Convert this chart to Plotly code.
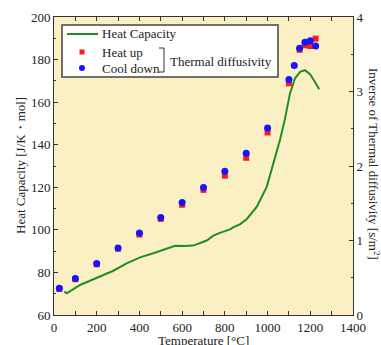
import plotly.graph_objects as go

# Heat capacity curve (left axis)
cp_temp = [48, 60, 122, 215, 278, 340, 403, 465, 528, 567, 610, 652, 715, 746, 777, 824, 839, 870, 902, 949, 996, 1027, 1058, 1081, 1105, 1128, 1152, 1175, 1199, 1222, 1242]
cp_val = [71.0, 70.2, 74.1, 78.0, 80.8, 84.3, 87.1, 89.0, 91.3, 92.5, 92.4, 92.6, 95.0, 97.3, 98.6, 100.2, 101.2, 102.6, 105.0, 110.8, 120.2, 131.2, 142.2, 152.0, 164.1, 171.1, 174.2, 175.0, 173.1, 169.5, 166.0]

# Inverse of thermal diffusivity (right axis)
up_temp = [25, 100, 200, 300, 400, 500, 600, 700, 800, 900, 1000, 1100, 1150, 1175, 1200, 1225]
up_val = [0.35, 0.48, 0.68, 0.89, 1.08, 1.29, 1.48, 1.68, 1.87, 2.11, 2.45, 3.11, 3.56, 3.62, 3.61, 3.71]
down_temp = [25, 100, 200, 300, 400, 500, 600, 700, 800, 900, 1000, 1100, 1125, 1150, 1175, 1200, 1225]
down_val = [0.36, 0.49, 0.69, 0.90, 1.10, 1.31, 1.51, 1.71, 1.93, 2.17, 2.51, 3.16, 3.35, 3.58, 3.66, 3.68, 3.61]

x_ticks = [0, 200, 400, 600, 800, 1000, 1200, 1400]
y_ticks = [60, 80, 100, 120, 140, 160, 180, 200]
y2_ticks = [0, 1, 2, 3, 4]

GREEN = "#1f8f23"
RED = "#ff1a1a"
BLUE = "#1414ff"
FONT = "Liberation Serif"
TXT = "#222222"

fig = go.Figure()
fig.add_trace(go.Scatter(x=cp_temp, y=cp_val, mode="lines", line=dict(color=GREEN, width=2), showlegend=False))
fig.add_trace(go.Scatter(x=up_temp, y=up_val, mode="markers", yaxis="y2",
                         marker=dict(symbol="square", color=RED, size=6), showlegend=False))
fig.add_trace(go.Scatter(x=down_temp, y=down_val, mode="markers", yaxis="y2",
                         marker=dict(symbol="circle", color=BLUE, size=7), showlegend=False))

L, R, T, B = 54, 353, 17, 315
W = R - L
H = B - T
def px(x):
    return (x - L) / W
def py(y):
    return (B - y) / H

axis_common = dict(showline=True, linecolor="#333333", linewidth=1, ticks="inside",
                   tickcolor="#333333", ticklen=4, showgrid=False, zeroline=False, automargin=False,
                   tickfont=dict(family=FONT, size=13, color=TXT))

fig.update_layout(
    width=381, height=345,
    margin=dict(l=L, r=381 - R, t=T, b=345 - B),
    paper_bgcolor="white", plot_bgcolor="#fbf0c3",
    font=dict(family=FONT, size=13, color=TXT),
    xaxis=dict(range=[0, 1400], tickvals=x_ticks, mirror="allticks",
               minor=dict(dtick=100, ticks="inside", ticklen=2, tickcolor="#333333"),
               **axis_common),
    yaxis=dict(range=[60, 200], tickvals=y_ticks,
               minor=dict(dtick=10, ticks="inside", ticklen=2, tickcolor="#333333"),
               **axis_common),
    yaxis2=dict(range=[0, 4], tickvals=y2_ticks, overlaying="y", side="right",
                minor=dict(dtick=0.5, ticks="inside", ticklen=2, tickcolor="#333333"),
                **axis_common),
)

# axis titles
fig.add_annotation(x=px(203.5), y=py(340.5), xref="paper", yref="paper", text="Temperature [°C]",
                   showarrow=False, xanchor="center", yanchor="middle", font=dict(family=FONT, size=13, color=TXT))
fig.add_annotation(x=px(20), y=py(166), xref="paper", yref="paper", text="Heat Capacity [J/K・mol]",
                   textangle=-90, showarrow=False, xanchor="center", yanchor="middle",
                   font=dict(family=FONT, size=13, color=TXT))
fig.add_annotation(x=px(374), y=py(164), xref="paper", yref="paper",
                   text="Inverse of Thermal diffusivity [s/m<sup>2</sup>]", textangle=90,
                   showarrow=False, xanchor="center", yanchor="middle", font=dict(family=FONT, size=13, color=TXT))

# legend box
fig.add_shape(type="rect", xref="paper", yref="paper", x0=px(62), x1=px(278), y0=py(25), y1=py(77),
              line=dict(color="#444444", width=1.5), fillcolor="white")
fig.add_shape(type="line", xref="paper", yref="paper", x0=px(67), x1=px(98), y0=py(34), y1=py(34),
              line=dict(color=GREEN, width=2))
fig.add_shape(type="rect", xref="paper", yref="paper", x0=px(79.5), x1=px(84.5), y0=py(49.5), y1=py(54.5),
              line=dict(width=0), fillcolor=RED)
fig.add_shape(type="circle", xref="paper", yref="paper", x0=px(79), x1=px(85), y0=py(65), y1=py(71),
              line=dict(width=0), fillcolor=BLUE)
for txt, yy in [("Heat Capacity", 34), ("Heat up", 52), ("Cool down", 68)]:
    fig.add_annotation(x=px(100), y=py(yy), xref="paper", yref="paper", text=txt, showarrow=False,
                       xanchor="left", yanchor="middle", font=dict(family=FONT, size=13, color=TXT))
# bracket
fig.add_shape(type="path", xref="paper", yref="paper",
              path=f"M {px(159)} {py(48)} L {px(164)} {py(48)} L {px(164)} {py(72)} L {px(159)} {py(72)}",
              line=dict(color="#333333", width=1))
fig.add_annotation(x=px(168), y=py(61), xref="paper", yref="paper", text="Thermal diffusivity", showarrow=False,
                   xanchor="left", yanchor="middle", font=dict(family=FONT, size=13, color=TXT))

fig.write_html("out.html", config={"displayModeBar": False},
               post_script="document.body.style.margin='0px';document.body.style.padding='0px';")
